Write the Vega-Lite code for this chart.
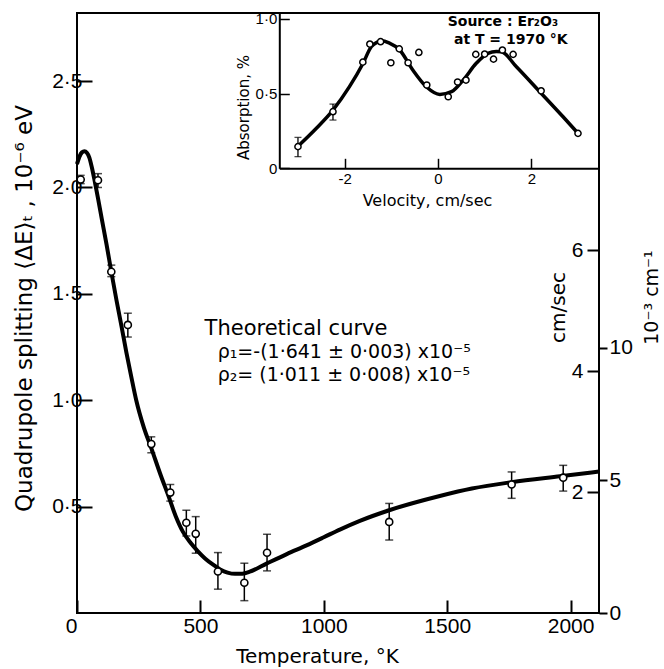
{
  "$schema": "https://vega.github.io/schema/vega-lite/v6.json",
  "width": 522,
  "height": 600,
  "autosize": "none",
  "padding": {"left": 77, "top": 13, "right": 65, "bottom": 56},
  "background": "white",
  "datasets": {
    "curve": [
      {"T": 0, "E": 2.11}, {"T": 10, "E": 2.145}, {"T": 20, "E": 2.165}, {"T": 30, "E": 2.17},
      {"T": 40, "E": 2.163}, {"T": 50, "E": 2.14}, {"T": 60, "E": 2.095}, {"T": 70, "E": 2.04},
      {"T": 85, "E": 1.95}, {"T": 100, "E": 1.855}, {"T": 120, "E": 1.73}, {"T": 139, "E": 1.604},
      {"T": 160, "E": 1.47}, {"T": 180, "E": 1.35}, {"T": 200, "E": 1.225}, {"T": 220, "E": 1.11},
      {"T": 240, "E": 1.0}, {"T": 270, "E": 0.875}, {"T": 301, "E": 0.775}, {"T": 340, "E": 0.645},
      {"T": 369, "E": 0.555}, {"T": 400, "E": 0.455}, {"T": 430, "E": 0.38}, {"T": 460, "E": 0.33},
      {"T": 490, "E": 0.29}, {"T": 520, "E": 0.255}, {"T": 550, "E": 0.228}, {"T": 580, "E": 0.205},
      {"T": 610, "E": 0.19}, {"T": 640, "E": 0.184}, {"T": 670, "E": 0.185}, {"T": 700, "E": 0.194},
      {"T": 768, "E": 0.232}, {"T": 850, "E": 0.277}, {"T": 930, "E": 0.318}, {"T": 1000, "E": 0.356},
      {"T": 1065, "E": 0.392}, {"T": 1146, "E": 0.433}, {"T": 1265, "E": 0.483}, {"T": 1470, "E": 0.55},
      {"T": 1600, "E": 0.585}, {"T": 1761, "E": 0.615}, {"T": 1957, "E": 0.643}, {"T": 2115, "E": 0.665}
    ],
    "points": [
      {"T": 15, "E": 2.037, "lo": 2.018, "hi": 2.057},
      {"T": 85, "E": 2.034, "lo": 2.0, "hi": 2.065},
      {"T": 139, "E": 1.604, "lo": 1.581, "hi": 1.635},
      {"T": 206, "E": 1.354, "lo": 1.297, "hi": 1.409},
      {"T": 301, "E": 0.794, "lo": 0.753, "hi": 0.828},
      {"T": 378, "E": 0.566, "lo": 0.526, "hi": 0.604},
      {"T": 443, "E": 0.424, "lo": 0.362, "hi": 0.483},
      {"T": 481, "E": 0.372, "lo": 0.281, "hi": 0.453},
      {"T": 571, "E": 0.195, "lo": 0.112, "hi": 0.284},
      {"T": 678, "E": 0.142, "lo": 0.058, "hi": 0.234},
      {"T": 770, "E": 0.283, "lo": 0.198, "hi": 0.37},
      {"T": 1265, "E": 0.428, "lo": 0.343, "hi": 0.515},
      {"T": 1761, "E": 0.604, "lo": 0.539, "hi": 0.663},
      {"T": 1970, "E": 0.636, "lo": 0.573, "hi": 0.694}
    ],
    "insetCurve": [
      {"V": -3.0, "A": 0.148}, {"V": -2.6, "A": 0.27}, {"V": -2.25, "A": 0.39}, {"V": -1.9, "A": 0.545},
      {"V": -1.61, "A": 0.7}, {"V": -1.43, "A": 0.814}, {"V": -1.3, "A": 0.845}, {"V": -1.21, "A": 0.854},
      {"V": -1.05, "A": 0.84}, {"V": -0.82, "A": 0.792}, {"V": -0.54, "A": 0.658}, {"V": -0.25, "A": 0.546},
      {"V": 0.04, "A": 0.495}, {"V": 0.29, "A": 0.513}, {"V": 0.54, "A": 0.591}, {"V": 0.82, "A": 0.703},
      {"V": 1.07, "A": 0.77}, {"V": 1.25, "A": 0.782}, {"V": 1.36, "A": 0.78}, {"V": 1.68, "A": 0.68},
      {"V": 2.18, "A": 0.513}, {"V": 2.68, "A": 0.345}, {"V": 2.97, "A": 0.245}
    ],
    "insetPoints": [
      {"V": -3.0, "A": 0.145, "lo": 0.078, "hi": 0.207},
      {"V": -2.25, "A": 0.379, "lo": 0.323, "hi": 0.43},
      {"V": -1.61, "A": 0.711}, {"V": -1.46, "A": 0.832}, {"V": -1.23, "A": 0.848},
      {"V": -1.01, "A": 0.707}, {"V": -0.83, "A": 0.8}, {"V": -0.64, "A": 0.707},
      {"V": -0.41, "A": 0.776}, {"V": -0.24, "A": 0.558}, {"V": 0.22, "A": 0.479},
      {"V": 0.42, "A": 0.578}, {"V": 0.6, "A": 0.591}, {"V": 0.81, "A": 0.763},
      {"V": 1.0, "A": 0.765}, {"V": 1.19, "A": 0.731}, {"V": 1.38, "A": 0.792},
      {"V": 1.61, "A": 0.763}, {"V": 2.21, "A": 0.519}, {"V": 3.0, "A": 0.234}
    ]
  },
  "layer": [
    {
      "layer": [
        {
          "data": {"name": "curve"},
          "mark": {"type": "line", "color": "black", "strokeWidth": 4, "interpolate": "monotone"},
          "encoding": {
            "x": {
              "field": "T", "type": "quantitative",
              "scale": {"domain": [0, 2115], "nice": false, "zero": false},
              "axis": {
                "orient": "bottom", "values": [0, 500, 1000, 1500, 2000], "format": "d",
                "domain": false, "tickSize": -13, "tickWidth": 2, "labelPadding": 15,
                "labelFontSize": 21,
                "labelAlign": {"condition": {"test": "datum.value == 0", "value": "right"}, "value": "center"},
                "title": "Temperature, °K", "titleFontSize": 20,
                "titleX": 240, "titleY": 43, "titleAlign": "center", "titleBaseline": "middle"
              }
            },
            "y": {
              "field": "E", "type": "quantitative",
              "scale": {"domain": [0, 2.82], "nice": false, "zero": false},
              "axis": {
                "orient": "left", "values": [0.5, 1, 1.5, 2, 2.5],
                "labelExpr": "replace(format(datum.value, '.1f'), '.', '·')",
                "domain": false, "tickSize": -15, "tickWidth": 2, "labelPadding": 10,
                "labelFontSize": 21,
                "title": "Quadrupole splitting  ⟨ΔE⟩ₜ , 10⁻⁶ eV", "titleFontSize": 23, "titleAngle": 270,
                "titleX": -53, "titleY": 295, "titleAlign": "center", "titleBaseline": "middle"
              }
            }
          }
        },
        {
          "data": {"name": "points"},
          "mark": {"type": "rule", "color": "black", "strokeWidth": 1.5},
          "encoding": {
            "x": {"field": "T", "type": "quantitative"},
            "y": {"field": "lo", "type": "quantitative"},
            "y2": {"field": "hi"}
          }
        },
        {
          "data": {"name": "points"},
          "mark": {"type": "tick", "color": "black", "orient": "horizontal", "size": 8, "thickness": 1.5},
          "encoding": {
            "x": {"field": "T", "type": "quantitative"},
            "y": {"field": "lo", "type": "quantitative"}
          }
        },
        {
          "data": {"name": "points"},
          "mark": {"type": "tick", "color": "black", "orient": "horizontal", "size": 8, "thickness": 1.5},
          "encoding": {
            "x": {"field": "T", "type": "quantitative"},
            "y": {"field": "hi", "type": "quantitative"}
          }
        },
        {
          "data": {"name": "points"},
          "mark": {"type": "point", "shape": "circle", "filled": false, "fill": "white", "stroke": "black", "strokeWidth": 1.6, "size": 50, "opacity": 1},
          "encoding": {
            "x": {"field": "T", "type": "quantitative"},
            "y": {"field": "E", "type": "quantitative"}
          }
        },
        {
          "data": {"values": [{}]},
          "mark": {"type": "text", "align": "left", "baseline": "middle", "font": "DejaVu Sans", "fontSize": 21, "text": "Theoretical curve"},
          "encoding": {
            "x": {"datum": 517, "type": "quantitative"},
            "y": {"datum": 1.333, "type": "quantitative"}
          }
        },
        {
          "data": {"values": [{}]},
          "mark": {"type": "text", "align": "left", "baseline": "middle", "font": "DejaVu Sans", "fontSize": 19, "text": "ρ₁=-(1·641 ± 0·003) x10⁻⁵"},
          "encoding": {
            "x": {"datum": 570, "type": "quantitative"},
            "y": {"datum": 1.228, "type": "quantitative"}
          }
        },
        {
          "data": {"values": [{}]},
          "mark": {"type": "text", "align": "left", "baseline": "middle", "font": "DejaVu Sans", "fontSize": 19, "text": "ρ₂=  (1·011 ± 0·008) x10⁻⁵"},
          "encoding": {
            "x": {"datum": 570, "type": "quantitative"},
            "y": {"datum": 1.12, "type": "quantitative"}
          }
        }
      ]
    },
    {
      "layer": [
        {
          "data": {"name": "insetCurve"},
          "mark": {"type": "line", "color": "black", "strokeWidth": 3.5, "interpolate": "monotone"},
          "encoding": {
            "x": {
              "field": "V", "type": "quantitative",
              "scale": {"domain": [-3.4, 3.45], "range": [202.3, 522], "nice": false, "zero": false},
              "axis": {
                "orient": "bottom", "offset": -444.7, "values": [-2, 0, 2],
                "labelExpr": "datum.value < 0 ? '-' + abs(datum.value) : '' + datum.value",
                "domain": true, "domainColor": "black", "domainWidth": 2,
                "tickSize": -10, "tickWidth": 1.5, "labelPadding": 13, "labelFontSize": 15,
                "title": "Velocity, cm/sec", "titleFontSize": 16,
                "titleX": 350, "titleY": 32, "titleAlign": "center", "titleBaseline": "middle"
              }
            },
            "y": {
              "field": "A", "type": "quantitative",
              "scale": {"domain": [0, 1.04], "range": [155.3, 0], "nice": false, "zero": false},
              "axis": {
                "orient": "left", "offset": -202.3, "values": [0, 0.5, 1],
                "labelExpr": "datum.value == 0 ? '0' : replace(format(datum.value, '.1f'), '.', '·')",
                "domain": true, "domainColor": "black", "domainWidth": 2,
                "tickSize": -10, "tickWidth": 1.5, "labelPadding": 12.5, "labelFontSize": 15,
                "title": "Absorption, %", "titleFontSize": 15, "titleAngle": 270,
                "titleX": -36, "titleY": 94, "titleAlign": "center", "titleBaseline": "middle"
              }
            }
          }
        },
        {
          "data": {"name": "insetPoints"},
          "transform": [{"filter": "isValid(datum.lo)"}],
          "mark": {"type": "rule", "color": "black", "strokeWidth": 1.3},
          "encoding": {
            "x": {"field": "V", "type": "quantitative"},
            "y": {"field": "lo", "type": "quantitative"},
            "y2": {"field": "hi"}
          }
        },
        {
          "data": {"name": "insetPoints"},
          "transform": [{"filter": "isValid(datum.lo)"}],
          "mark": {"type": "tick", "color": "black", "orient": "horizontal", "size": 7, "thickness": 1.3},
          "encoding": {
            "x": {"field": "V", "type": "quantitative"},
            "y": {"field": "lo", "type": "quantitative"}
          }
        },
        {
          "data": {"name": "insetPoints"},
          "transform": [{"filter": "isValid(datum.hi)"}],
          "mark": {"type": "tick", "color": "black", "orient": "horizontal", "size": 7, "thickness": 1.3},
          "encoding": {
            "x": {"field": "V", "type": "quantitative"},
            "y": {"field": "hi", "type": "quantitative"}
          }
        },
        {
          "data": {"name": "insetPoints"},
          "mark": {"type": "point", "shape": "circle", "filled": false, "fill": "white", "stroke": "black", "strokeWidth": 1.5, "size": 38, "opacity": 1},
          "encoding": {
            "x": {"field": "V", "type": "quantitative"},
            "y": {"field": "A", "type": "quantitative"}
          }
        },
        {
          "data": {"values": [{}]},
          "mark": {"type": "text", "align": "center", "baseline": "middle", "font": "DejaVu Sans", "fontSize": 14, "fontWeight": "bold", "text": "Source : Er₂O₃"},
          "encoding": {
            "x": {"datum": 1.39, "type": "quantitative"},
            "y": {"datum": 0.981, "type": "quantitative"}
          }
        },
        {
          "data": {"values": [{}]},
          "mark": {"type": "text", "align": "center", "baseline": "middle", "font": "DejaVu Sans", "fontSize": 14, "fontWeight": "bold", "text": "at  T = 1970 °K"},
          "encoding": {
            "x": {"datum": 1.56, "type": "quantitative"},
            "y": {"datum": 0.859, "type": "quantitative"}
          }
        }
      ]
    },
    {
      "data": {"values": [{}]},
      "mark": {"type": "rule", "opacity": 0},
      "encoding": {
        "y": {
          "datum": 0, "type": "quantitative",
          "scale": {"domain": [0, 9.93], "nice": false, "zero": false},
          "axis": {
            "orient": "right", "values": [2, 4, 6], "format": "d",
            "domain": false, "tickSize": -12, "tickWidth": 2,
            "labelAlign": "right", "labelPadding": -4, "labelFontSize": 21,
            "title": "cm/sec", "titleFontSize": 20, "titleAngle": 270,
            "titleX": -41, "titleY": 294, "titleAlign": "center", "titleBaseline": "middle"
          }
        }
      }
    },
    {
      "data": {"values": [{}]},
      "mark": {"type": "rule", "opacity": 0},
      "encoding": {
        "y": {
          "datum": 0, "type": "quantitative",
          "scale": {"domain": [0, 22.6], "nice": false, "zero": false},
          "axis": {
            "orient": "right", "values": [0, 5, 10], "format": "d",
            "domain": false, "tickSize": 8, "tickWidth": 2,
            "labelAlign": "left", "labelPadding": 2, "labelFontSize": 21,
            "title": "10⁻³ cm⁻¹", "titleFontSize": 19, "titleAngle": 270,
            "titleX": 52, "titleY": 284, "titleAlign": "center", "titleBaseline": "middle"
          }
        }
      }
    }
  ],
  "resolve": {"scale": {"x": "independent", "y": "independent"}},
  "config": {
    "view": {"stroke": "black", "strokeWidth": 2},
    "axis": {
      "grid": false,
      "labelFont": "Liberation Sans", "labelColor": "black",
      "titleFont": "DejaVu Sans", "titleColor": "black", "titleFontWeight": "normal",
      "tickColor": "black"
    }
  }
}
